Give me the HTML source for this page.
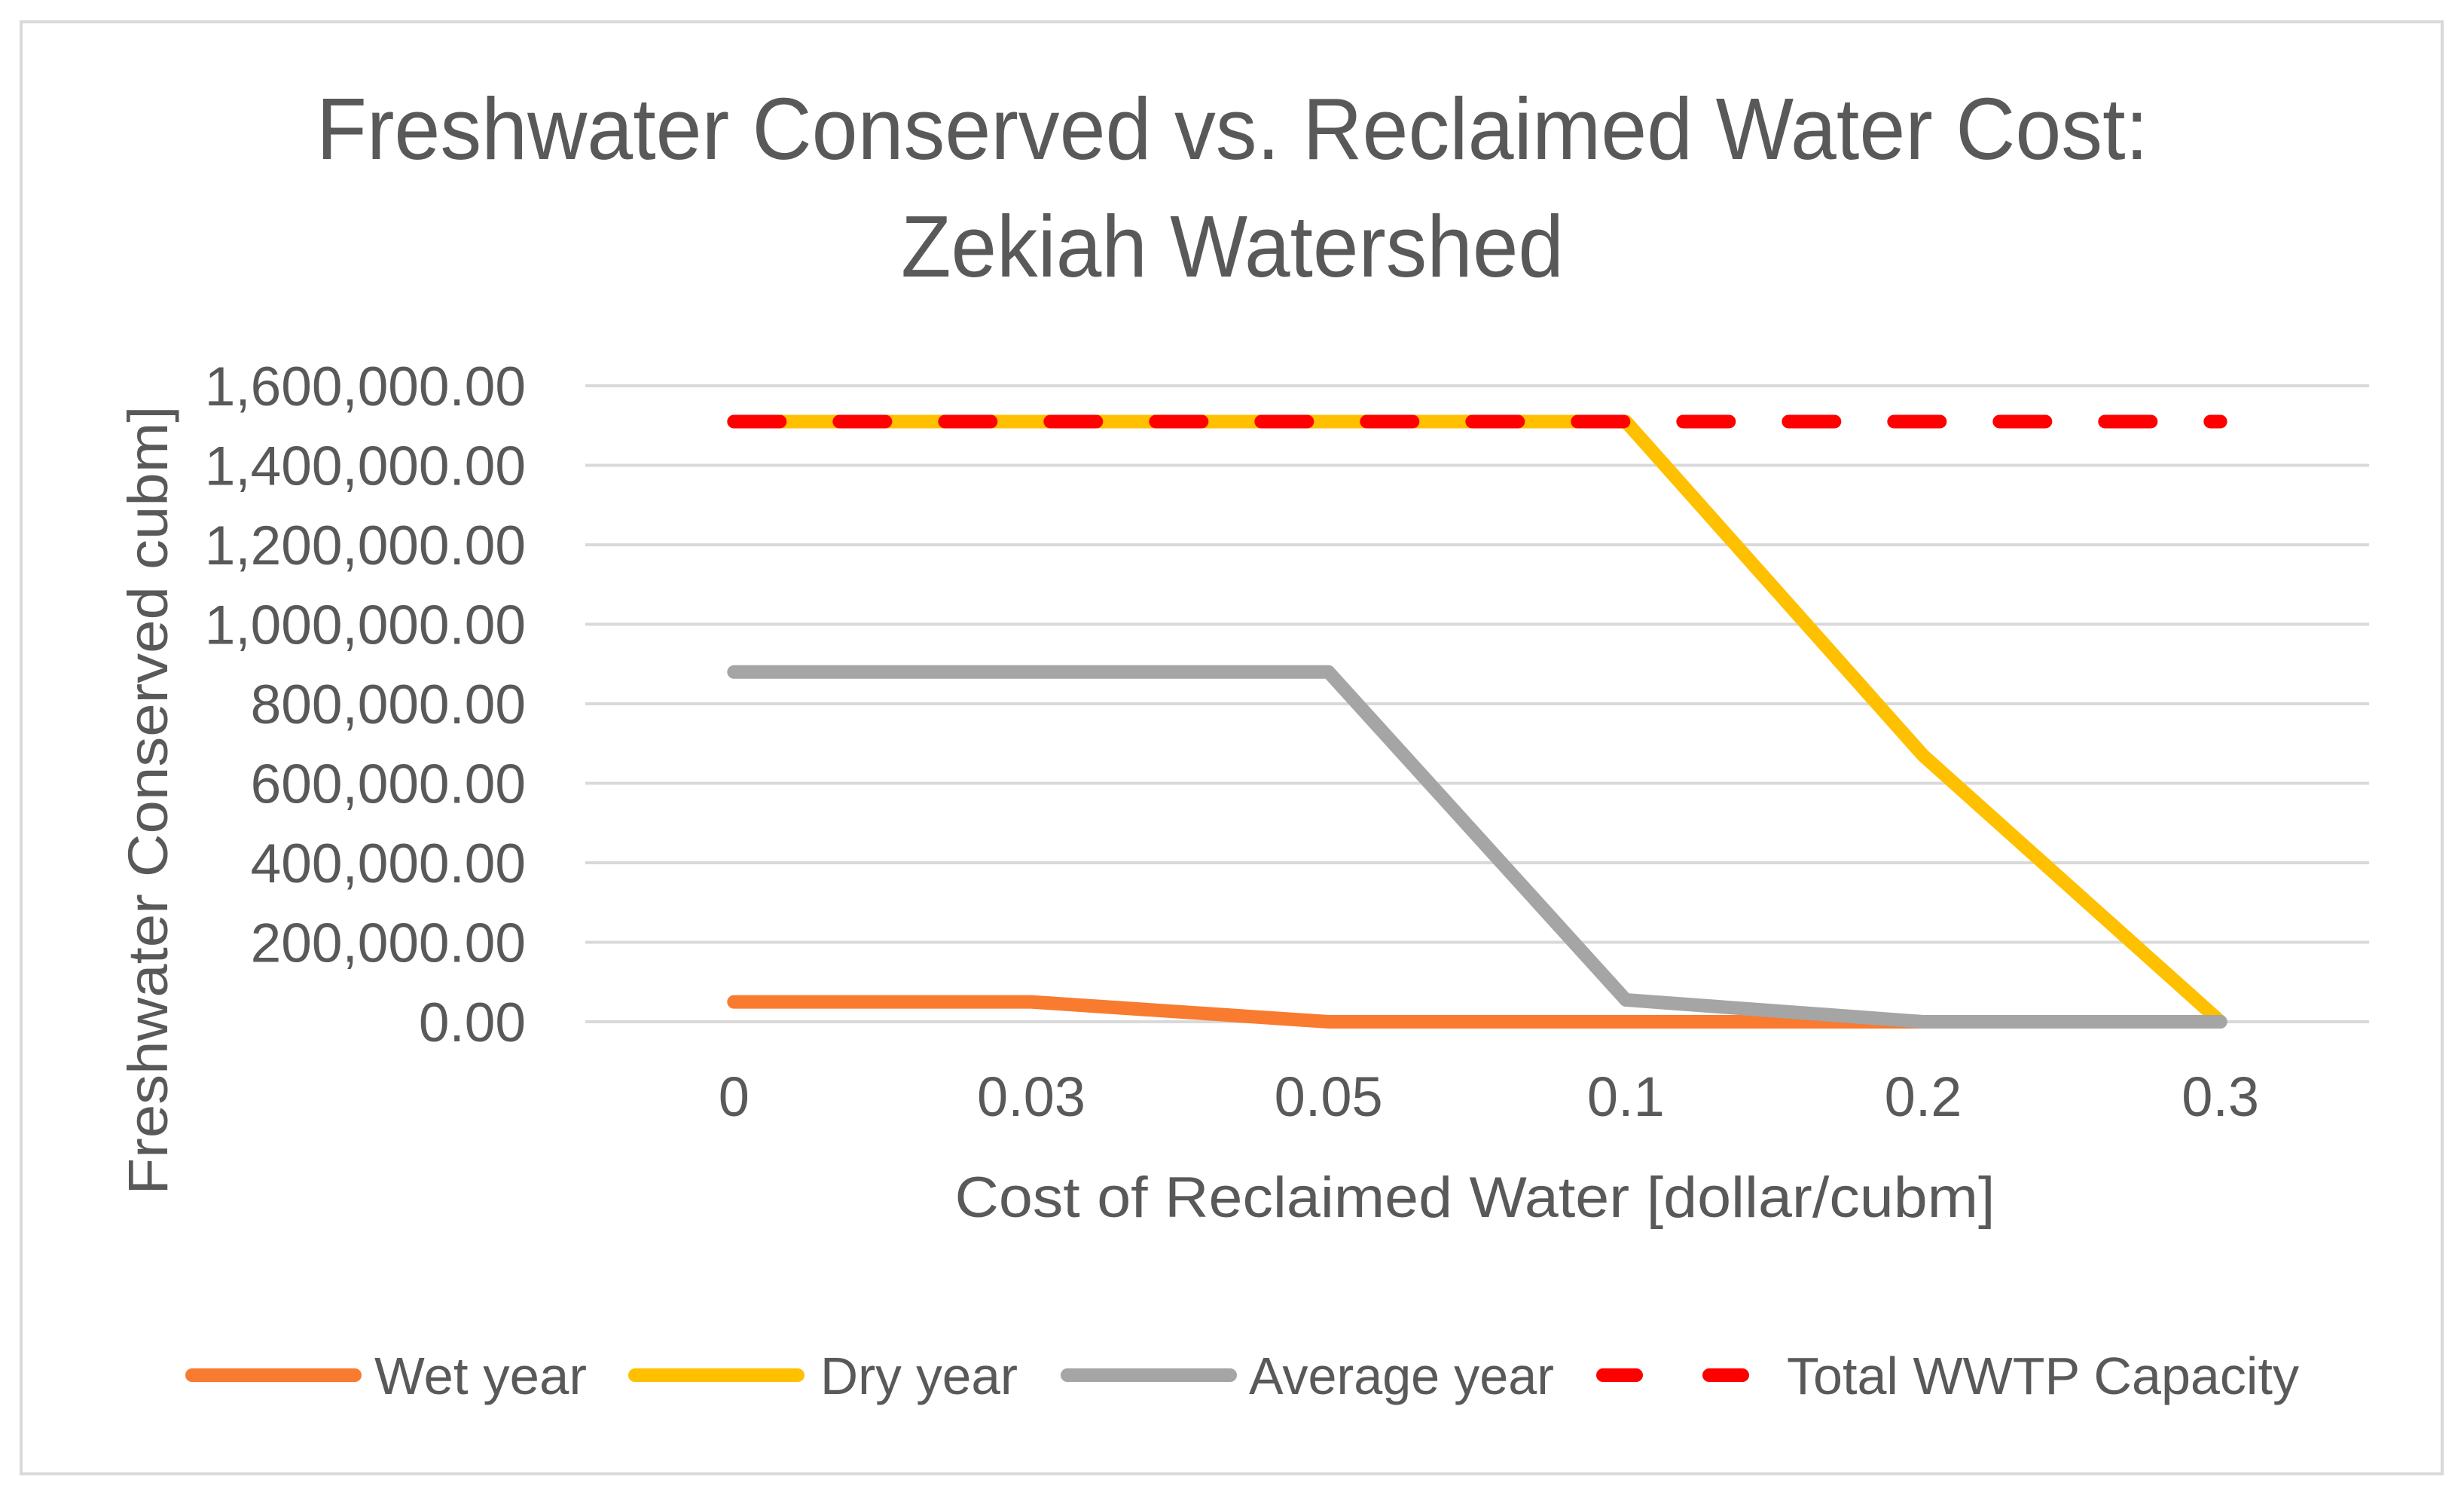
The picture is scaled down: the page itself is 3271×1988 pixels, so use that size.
<!DOCTYPE html>
<html><head><meta charset="utf-8"><style>
html,body{margin:0;padding:0;background:#fff;}
svg{display:block;font-family:"Liberation Sans",sans-serif;}
</style></head><body>
<svg id="chart" width="3271" height="1988" viewBox="0 0 3271 1988" xmlns="http://www.w3.org/2000/svg">
<rect x="28" y="29" width="3214" height="1927" fill="#fff" stroke="#d9d9d9" stroke-width="4"/>
<text x="1636" y="211" text-anchor="middle" font-size="116" fill="#595959" textLength="2432" lengthAdjust="spacingAndGlyphs">Freshwater Conserved vs. Reclaimed Water Cost:</text>
<text x="1636" y="367" text-anchor="middle" font-size="116" fill="#595959" textLength="880" lengthAdjust="spacingAndGlyphs">Zekiah Watershed</text>
<g id="grid"></g>
<g id="yticks"></g>
<g id="xticks"></g>
<g id="series"></g>
<text transform="translate(222,1062) rotate(-90)" text-anchor="middle" font-size="74" fill="#595959" textLength="1047" lengthAdjust="spacingAndGlyphs">Freshwater Conserved cubm]</text>
<text x="1958" y="1615" text-anchor="middle" font-size="76" fill="#595959" textLength="1381" lengthAdjust="spacingAndGlyphs">Cost of Reclaimed Water [dollar/cubm]</text>
<g id="legend"></g>
</svg>
<script>
const categories = ["0","0.03","0.05","0.1","0.2","0.3"];
const wetYear = [50000,50000,0,0,0,0];
const dryYear = [1510000,1510000,1510000,1510000,670000,0];
const averageYear = [880000,880000,880000,55000,0,0];
const wwtpCapacity = [1510000,1510000,1510000,1510000,1510000,1510000];
const yTicks = [0,200000,400000,600000,800000,1000000,1200000,1400000,1600000];
const yTickLabels = ["0.00","200,000.00","400,000.00","600,000.00","800,000.00","1,000,000.00","1,200,000.00","1,400,000.00","1,600,000.00"];

const NS="http://www.w3.org/2000/svg";
const plotL=777, plotR=3145, plotT=512, plotB=1356, yMax=1600000;
const step=(plotR-plotL)/categories.length;
function xPos(i){return plotL+step*(i+0.5);}
function yPos(v){return plotB-(v/yMax)*(plotB-plotT);}
function mk(tag,parent,attrs){const e=document.createElementNS(NS,tag);for(const k in attrs)e.setAttribute(k,attrs[k]);parent.appendChild(e);return e;}

const grid=document.getElementById('grid'), yt=document.getElementById('yticks'), xt=document.getElementById('xticks');
yTicks.forEach((v,i)=>{
  const l=mk('line',grid,{x1:plotL,x2:plotR,y1:yPos(v),y2:yPos(v),stroke:'#d9d9d9','stroke-width':4});
  
  
  const t=mk('text',yt,{x:698,y:yPos(v)+26,'text-anchor':'end','font-size':73,fill:'#595959'});
  t.textContent=yTickLabels[i];
  
  
});
categories.forEach((c,i)=>{
  const t=mk('text',xt,{x:xPos(i),y:1481,'text-anchor':'middle','font-size':74,fill:'#595959'});
  t.textContent=c;
  
  
});
const series=[
  {name:'wet-year-line',data:wetYear,color:'#F97B2F',dash:null,label:'Wet year'},
  {name:'dry-year-line',data:dryYear,color:'#FFC000',dash:null,label:'Dry year'},
  {name:'average-year-line',data:averageYear,color:'#A5A5A5',dash:null,label:'Average year'},
  {name:'wwtp-capacity-line',data:wwtpCapacity,color:'#FF0000',dash:'61 79',label:'Total WWTP Capacity'}
];
const sg=document.getElementById('series');
series.forEach(s=>{
  const pts=s.data.map((v,i)=>xPos(i)+','+yPos(v)).join(' ');
  const a={points:pts,fill:'none',stroke:s.color,'stroke-width':18,'stroke-linecap':'round','stroke-linejoin':'round'};
  if(s.dash)a['stroke-dasharray']=s.dash;
  const p=mk('polyline',sg,a);
  
  
});
const lg=document.getElementById('legend');
const legX=[[246,497],[834,1089],[1408,1658],[2119,2372]];
const legW=[[246,480],[834,1068],[1408,1642],[2119,2353]];
const legTL=[282,262,405,680];
series.forEach((s,i)=>{
  const a={x1:legW[i][0]+9,x2:legW[i][1]-9,y1:1825,y2:1825,stroke:s.color,'stroke-width':18,'stroke-linecap':'round'};
  if(s.dash)a['stroke-dasharray']='44 97';
  const l=mk('line',lg,a);
  
  
  const t=mk('text',lg,{x:legX[i][1],y:1850,'font-size':70,fill:'#595959',textLength:legTL[i],lengthAdjust:'spacingAndGlyphs'});
  t.textContent=s.label;
  
  
});
</script>
</body></html>
